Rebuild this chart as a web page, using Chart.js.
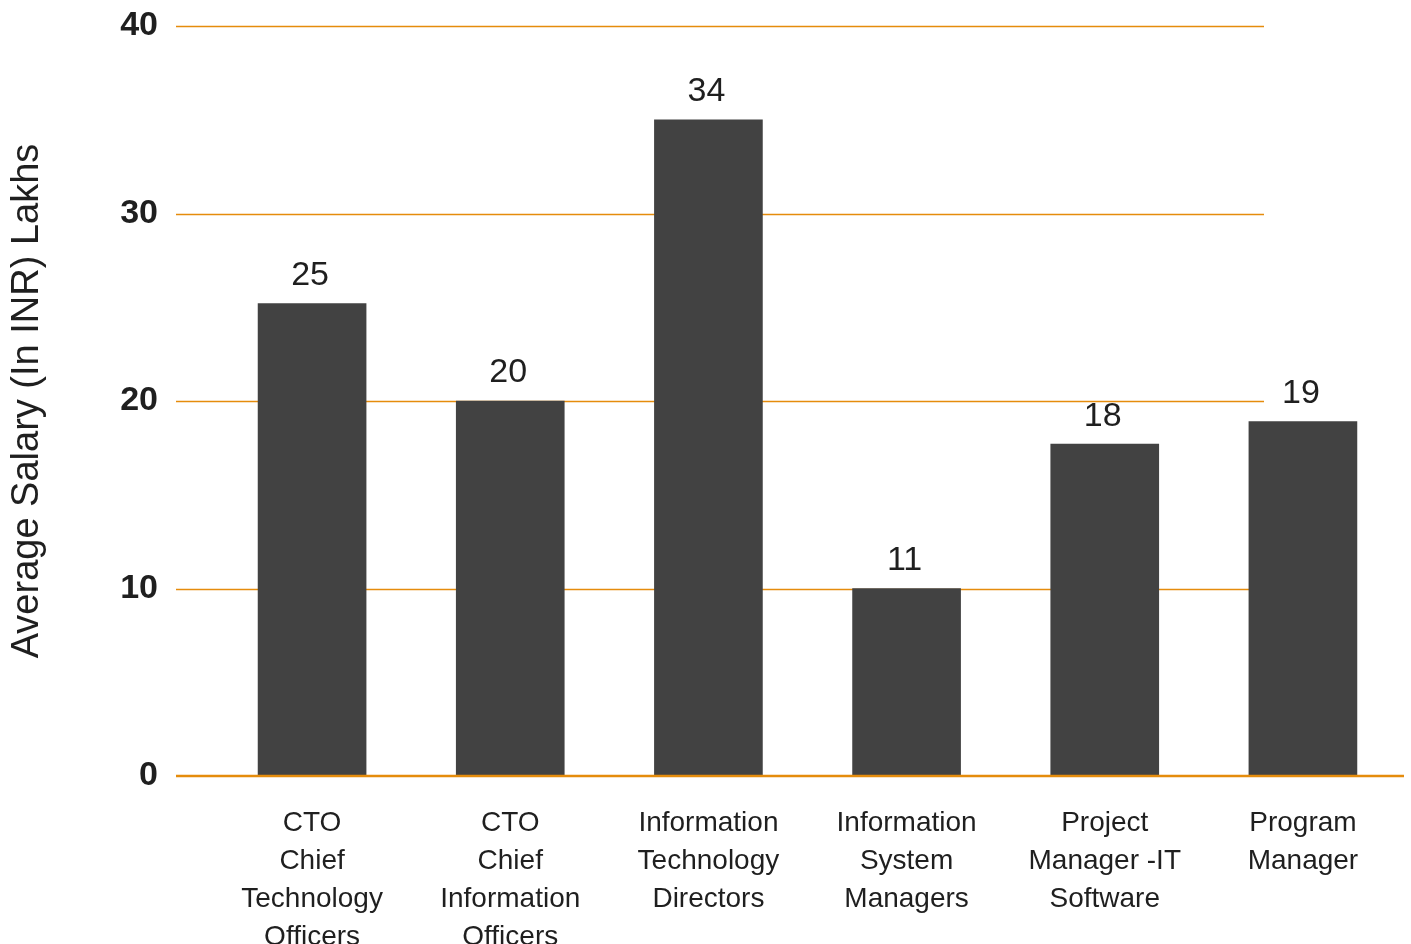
<!DOCTYPE html>
<html>
<head>
<meta charset="utf-8">
<script src="https://cdn.jsdelivr.net/npm/chart.js@4"></script>
<style>
  body { margin: 0; background: #fff; }
  canvas { display: block; }
</style>
</head>
<body>
<canvas id="salaryChart" width="1411" height="944"></canvas>
<script>
// data
const categories = [
  ['CTO', 'Chief', 'Technology', 'Officers'],
  ['CTO', 'Chief', 'Information', 'Officers'],
  ['Information', 'Technology', 'Directors'],
  ['Information', 'System', 'Managers'],
  ['Project', 'Manager -IT', 'Software'],
  ['Program', 'Manager']
];
const salary = [25.2, 20, 35, 10, 17.7, 18.9];
const valueLabels = ['25', '20', '34', '11', '18', '19'];
const yTicks = [0, 10, 20, 30, 40];

const FONT = '"Liberation Sans", Arial, Helvetica, sans-serif';
const ORANGE = '#e58c0c';
const TEXT = '#1f1f1f';

// orange grid lines (start left of the plot, stop short on the right)
const gridLines = {
  id: 'gridLines',
  beforeDatasetsDraw(chart) {
    const { ctx, chartArea } = chart;
    const y = chart.scales.y;
    ctx.save();
    ctx.strokeStyle = ORANGE;
    ctx.lineWidth = 1.5;
    yTicks.forEach(function (t) {
      if (t === 0) return;
      const py = Math.round(y.getPixelForValue(t)) + 0.5;
      ctx.beginPath();
      ctx.moveTo(chartArea.left - 37, py);
      ctx.lineTo(chartArea.right - 138, py);
      ctx.stroke();
    });
    ctx.restore();
  },
  afterDatasetsDraw(chart) {
    const { ctx, chartArea } = chart;
    const py = chart.scales.y.getPixelForValue(0);
    ctx.save();
    ctx.strokeStyle = ORANGE;
    ctx.lineWidth = 2.5;
    ctx.beginPath();
    ctx.moveTo(chartArea.left - 37, py);
    ctx.lineTo(chartArea.right + 2, py);
    ctx.stroke();

    // value labels above bars
    ctx.fillStyle = TEXT;
    ctx.font = '34px ' + FONT;
    ctx.textAlign = 'center';
    ctx.textBaseline = 'bottom';
    chart.getDatasetMeta(0).data.forEach(function (bar, i) {
      ctx.fillText(valueLabels[i], bar.x - 2, bar.y - 11);
    });
    ctx.restore();
  }
};

new Chart(document.getElementById('salaryChart'), {
  type: 'bar',
  data: {
    labels: categories,
    datasets: [{
      data: salary,
      backgroundColor: '#424242',
      borderWidth: 0,
      barThickness: 108
    }]
  },
  options: {
    responsive: false,
    animation: false,
    layout: { padding: { top: 26, right: 9, left: 0, bottom: 0 } },
    plugins: {
      legend: { display: false },
      tooltip: { enabled: false }
    },
    scales: {
      x: {
        grid: { display: false, drawTicks: false },
        border: { display: false },
        ticks: {
          color: TEXT,
          font: { family: FONT, size: 28, lineHeight: 1.36 },
          padding: 28,
          maxRotation: 0,
          autoSkip: false
        },
        afterFit(s) { s.height = 168; s.paddingLeft = 0; s.paddingRight = 0; }
      },
      y: {
        min: 0,
        max: 40,
        grid: { display: false, drawTicks: false },
        border: { display: false },
        afterBuildTicks(s) { s.ticks = yTicks.map(v => ({ value: v })); },
        ticks: {
          color: TEXT,
          font: { family: FONT, size: 34, weight: 'bold' },
          padding: 55
        },
        title: {
          display: true,
          text: 'Average Salary (In INR) Lakhs',
          color: TEXT,
          font: { family: FONT, size: 38 },
          padding: { top: 5, bottom: 0 }
        },
        afterFit(s) { s.width = 213; s.paddingTop = 0; s.paddingBottom = 0; }
      }
    }
  },
  plugins: [gridLines]
});
</script>
</body>
</html>
